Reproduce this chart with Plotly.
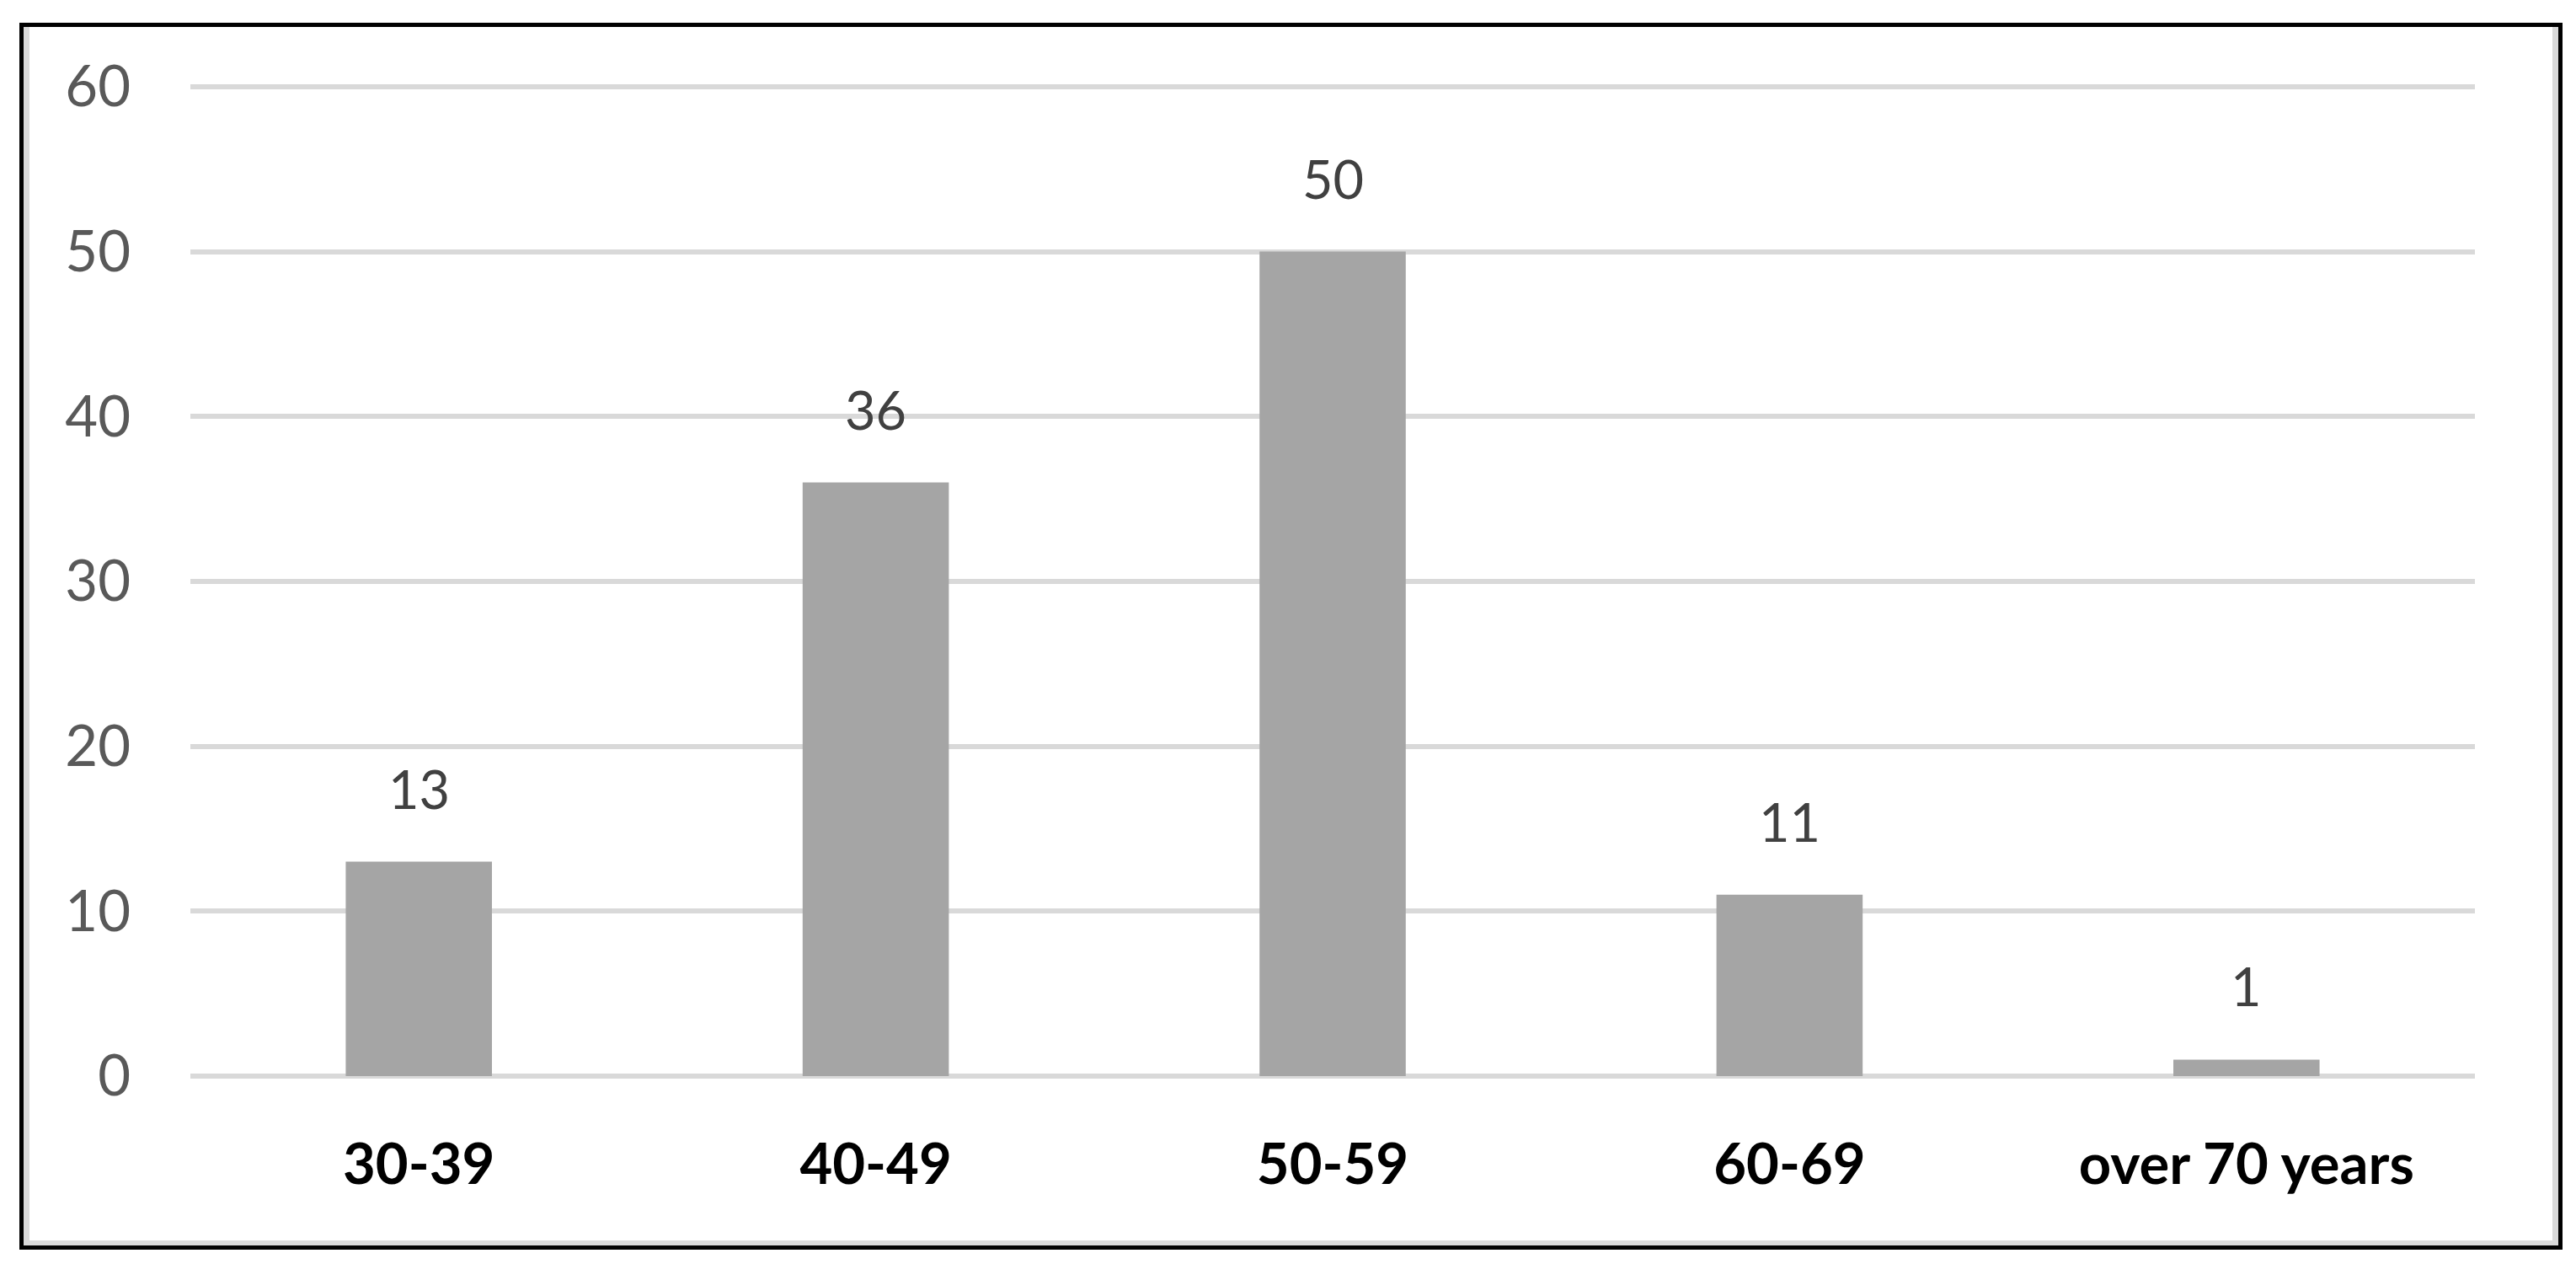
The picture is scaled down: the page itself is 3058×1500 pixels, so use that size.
import plotly.graph_objects as go

categories = ["30-39", "40-49", "50-59", "60-69", "over 70 years"]
counts = [13, 36, 50, 11, 1]
y_ticks = [0, 10, 20, 30, 40, 50, 60]

W, H = 3058, 1500
# plot area in pixels; y range gets a little headroom so the 60 gridline shows
plot_l, plot_r, plot_b = 218, 2930, 1269
y_top = 60.25
plot_t = 95 - (y_top - 60) * (1269 - 95) / 60
pw, ph = plot_r - plot_l, plot_b - plot_t


def px_x(x):
    return (x - plot_l) / pw


def px_y(y):
    return (plot_b - y) / ph


fig = go.Figure()

fig.add_trace(go.Bar(
    x=categories,
    y=counts,
    width=0.32,
    marker=dict(color="#a5a5a5", line=dict(width=0)),
    hoverinfo="x+y",
))

# value labels above each bar
for cat, val in zip(categories, counts):
    fig.add_annotation(
        x=cat, y=val, text=str(val), showarrow=False,
        yanchor="bottom", yshift=48,
        font=dict(family="Lato, sans-serif", size=63, color="#404040"),
    )

# chart-area frame: grey shadow strips on left/right/bottom, black outline
for x0, y0, x1, y1 in [(23.5, 24, 23.5, 1467.5), (3025.5, 24, 3025.5, 1467.5),
                       (20, 1467.5, 3029, 1467.5)]:
    fig.add_shape(type="line", xref="paper", yref="paper",
                  x0=px_x(x0), x1=px_x(x1), y0=px_y(y0), y1=px_y(y1),
                  line=dict(color="#d9d9d9", width=7), layer="below")
fig.add_shape(type="rect", xref="paper", yref="paper",
              x0=px_x(17.5), x1=px_x(3031.5), y0=px_y(1472.5), y1=px_y(21.5),
              line=dict(color="#000000", width=5), layer="above")

fig.update_layout(
    width=W, height=H,
    margin=dict(l=plot_l, r=W - plot_r, t=plot_t, b=H - plot_b),
    paper_bgcolor="white",
    plot_bgcolor="white",
    showlegend=False,
    xaxis=dict(
        showgrid=False, showline=False, ticks="",
        ticklabelstandoff=60,
        tickfont=dict(family="Lato, sans-serif", size=67, color="#000000", weight="bold"),
    ),
    yaxis=dict(
        range=[0, y_top], tickvals=y_ticks,
        showgrid=True, gridcolor="#d9d9d9", gridwidth=6,
        zeroline=True, zerolinecolor="#d9d9d9", zerolinewidth=6,
        showline=False, ticks="",
        ticklabelstandoff=70,
        tickfont=dict(family="Lato, sans-serif", size=67, color="#595959"),
    ),
)

fig.write_html("out.html")
